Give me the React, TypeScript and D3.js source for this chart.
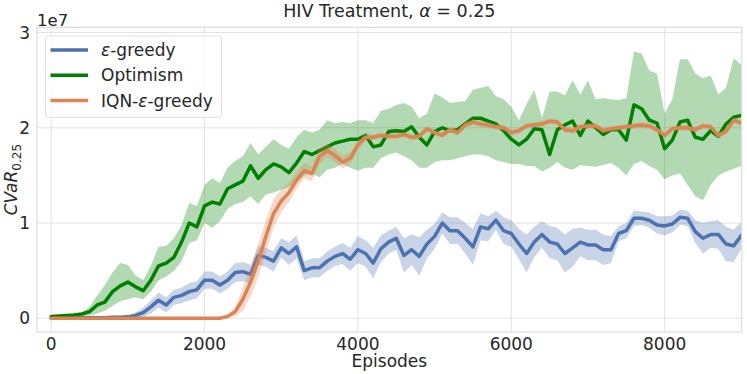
import React from "react";
import * as d3 from "d3";

// Size of the picture and the plot box
const W = 747;
const H = 374;
const box = { left: 37, right: 741.7, top: 27.3, bottom: 332 };

// Episodes, one sample every 100 episodes
const episodes = d3.range(0, 9001, 100);

// Values are in units of 1e7
const epsMean = [
  0.0, 0.0, 0.005, 0.005, 0.005, 0.005, 0.005, 0.005, 0.01, 0.01,
  0.015, 0.03, 0.06, 0.12, 0.19, 0.14, 0.22, 0.24, 0.28, 0.3,
  0.4, 0.4, 0.35, 0.4, 0.48, 0.49, 0.46, 0.66, 0.64, 0.6,
  0.74, 0.68, 0.75, 0.5, 0.53, 0.53, 0.6, 0.65, 0.68, 0.62,
  0.72, 0.68, 0.58, 0.73, 0.8, 0.84, 0.66, 0.72, 0.65, 0.78,
  0.86, 1.0, 0.92, 0.92, 0.84, 0.75, 0.96, 0.94, 1.03, 0.92,
  0.89, 0.78, 0.68, 0.8, 0.88, 0.8, 0.78, 0.68, 0.74, 0.8,
  0.77, 0.77, 0.72, 0.72, 0.89, 0.92, 1.05, 1.05, 1.03, 0.98,
  0.97, 0.99, 1.06, 1.05, 0.91, 0.84, 0.88, 0.88, 0.78, 0.76,
  0.87,
];
const epsSd = [
  0.01, 0.01, 0.01, 0.01, 0.01, 0.01, 0.01, 0.01, 0.01, 0.01,
  0.01, 0.03, 0.05, 0.07, 0.08, 0.08, 0.08, 0.08, 0.09, 0.09,
  0.09, 0.09, 0.09, 0.09, 0.1, 0.1, 0.1, 0.1, 0.1, 0.11,
  0.1, 0.12, 0.12, 0.1, 0.1, 0.1, 0.1, 0.1, 0.11, 0.12,
  0.14, 0.14, 0.16, 0.14, 0.12, 0.12, 0.18, 0.16, 0.2, 0.15,
  0.13, 0.11, 0.14, 0.14, 0.16, 0.19, 0.14, 0.13, 0.1, 0.14,
  0.14, 0.16, 0.2, 0.16, 0.14, 0.17, 0.17, 0.2, 0.2, 0.15,
  0.16, 0.16, 0.16, 0.14, 0.08, 0.08, 0.08, 0.07, 0.08, 0.09,
  0.1, 0.09, 0.08, 0.08, 0.12, 0.16, 0.14, 0.15, 0.18, 0.17,
  0.14,
];

const optMean = [
  0.02, 0.025, 0.03, 0.035, 0.045, 0.07, 0.14, 0.17, 0.28, 0.34,
  0.38, 0.33, 0.29, 0.4, 0.55, 0.58, 0.64, 0.8, 1.0, 0.96,
  1.18, 1.22, 1.2, 1.36, 1.4, 1.44, 1.6, 1.47, 1.56, 1.62,
  1.59, 1.53, 1.63, 1.75, 1.72, 1.76, 1.8, 1.84, 1.86, 1.88,
  1.88, 1.92, 1.8, 1.82, 1.96, 1.97, 1.96, 2.01, 1.9, 1.82,
  1.96, 2.0, 1.97, 1.98, 2.04, 2.1, 2.1, 2.07, 2.04, 1.97,
  1.88, 1.82, 1.88, 1.99, 1.98, 1.72, 1.98, 2.03, 2.07, 1.92,
  2.07, 2.0, 1.93, 1.98, 1.98, 1.87, 2.24, 2.2, 2.08, 2.05,
  1.78, 1.87, 2.06, 2.08, 1.9, 1.88, 1.97, 1.91, 2.04, 2.11,
  2.13,
];
const optLow = [
  0.01, 0.015, 0.02, 0.02, 0.025, 0.03, 0.05, 0.08, 0.13, 0.18,
  0.2, 0.22, 0.2, 0.28, 0.4, 0.44, 0.5, 0.6, 0.79, 0.82,
  1.0, 0.95, 1.02, 1.15, 1.2, 1.22, 1.28, 1.2, 1.3, 1.32,
  1.35, 1.38, 1.42, 1.5, 1.52, 1.48, 1.56, 1.58, 1.62, 1.58,
  1.55, 1.58, 1.58, 1.68, 1.72, 1.74, 1.7, 1.66, 1.58, 1.58,
  1.64, 1.66, 1.66, 1.68, 1.7, 1.72, 1.72, 1.7, 1.66, 1.64,
  1.62, 1.62, 1.6, 1.6, 1.54, 1.58, 1.64, 1.58, 1.56, 1.61,
  1.6, 1.59, 1.61, 1.63, 1.58, 1.5, 1.62, 1.65, 1.6, 1.56,
  1.46, 1.5, 1.52, 1.4, 1.28, 1.24, 1.4, 1.5, 1.54, 1.57,
  1.6,
];
const optHigh = [
  0.03, 0.035, 0.04, 0.05, 0.06, 0.12, 0.24, 0.35, 0.48, 0.58,
  0.56, 0.45, 0.4, 0.55, 0.75, 0.76, 0.84, 0.98, 1.21, 1.18,
  1.4, 1.47, 1.42, 1.58, 1.65, 1.7, 1.84, 1.72, 1.8, 1.88,
  1.82, 1.78, 1.9, 1.98, 1.95, 1.98, 2.08, 2.05, 2.06, 2.05,
  2.08, 2.08, 2.05, 2.18, 2.2, 2.24, 2.26, 2.22, 2.1, 2.15,
  2.36, 2.32, 2.26, 2.27, 2.28, 2.4, 2.42, 2.44, 2.33, 2.3,
  2.22, 2.08, 2.25, 2.4, 2.1, 2.38, 2.38, 2.34, 2.5, 2.35,
  2.5, 2.3, 2.31, 2.3, 2.29, 2.31, 2.8, 2.78, 2.6, 2.57,
  2.15, 2.3, 2.72, 2.72, 2.57, 2.52, 2.55, 2.35, 2.42, 2.73,
  2.66,
];

const iqnMean = [
  0.0, 0.0, 0.0, 0.0, 0.0, 0.0, 0.0, 0.0, 0.0, 0.0,
  0.0, 0.0, 0.0, 0.0, 0.0, 0.0, 0.0, 0.0, 0.0, 0.0,
  0.0, 0.0, 0.0, 0.02, 0.07, 0.2, 0.38, 0.6, 0.86, 1.1,
  1.23, 1.32, 1.45, 1.55, 1.52, 1.7, 1.76, 1.71, 1.64, 1.68,
  1.82, 1.9, 1.9, 1.92, 1.91, 1.91, 1.93, 1.9, 1.91, 1.99,
  1.95, 1.92, 1.98, 1.95, 2.03, 2.06, 2.04, 2.03, 2.01, 2.0,
  1.95, 1.97, 2.02, 2.03, 2.04, 2.07, 2.06, 1.98, 1.97, 2.01,
  2.02, 2.02, 1.97, 1.99, 2.0, 2.01, 2.02, 2.03, 2.02, 1.98,
  1.92, 1.99, 2.0, 2.0, 1.98, 2.02, 2.01, 1.92, 1.96, 2.08,
  2.05,
];
const iqnSd = [
  0.01, 0.01, 0.01, 0.01, 0.01, 0.01, 0.01, 0.01, 0.01, 0.01,
  0.01, 0.01, 0.01, 0.01, 0.01, 0.01, 0.01, 0.01, 0.01, 0.01,
  0.01, 0.01, 0.01, 0.02, 0.05, 0.12, 0.15, 0.17, 0.17, 0.15,
  0.12, 0.1, 0.09, 0.08, 0.08, 0.08, 0.07, 0.07, 0.07, 0.06,
  0.05, 0.04, 0.03, 0.03, 0.03, 0.03, 0.03, 0.03, 0.03, 0.03,
  0.03, 0.03, 0.03, 0.03, 0.03, 0.03, 0.03, 0.03, 0.03, 0.03,
  0.03, 0.03, 0.03, 0.03, 0.03, 0.03, 0.03, 0.03, 0.03, 0.03,
  0.03, 0.03, 0.03, 0.03, 0.03, 0.03, 0.03, 0.03, 0.03, 0.03,
  0.03, 0.03, 0.03, 0.03, 0.03, 0.03, 0.03, 0.03, 0.03, 0.03,
  0.03,
];

const xTicks = [0, 2000, 4000, 6000, 8000];
const yTicks = [0, 1, 2, 3];

const BLUE = "#4c72b0";
const GREEN = "#008000";
const ORANGE = "#dd8452";
const FONT = "DejaVu Sans, sans-serif";
const TEXT = "#262626";

const series = [
  { name: "ε-greedy", color: BLUE, mean: epsMean, lo: epsMean.map((m, i) => m - epsSd[i]), hi: epsMean.map((m, i) => m + epsSd[i]) },
  { name: "Optimism", color: GREEN, mean: optMean, lo: optLow, hi: optHigh },
  { name: "IQN-ε-greedy", color: ORANGE, mean: iqnMean, lo: iqnMean.map((m, i) => m - iqnSd[i]), hi: iqnMean.map((m, i) => m + iqnSd[i]) },
];

export default function App() {
  const x = d3.scaleLinear().domain([-185, 9005]).range([box.left, box.right]);
  const y = d3.scaleLinear().domain([-0.144, 3.055]).range([box.bottom, box.top]);

  const line = d3
    .line<number>()
    .x((_, i) => x(episodes[i]))
    .y((d) => y(d));

  const band = (lo: number[], hi: number[]) =>
    d3
      .area<number>()
      .x((_, i) => x(episodes[i]))
      .y0((_, i) => y(lo[i]))
      .y1((_, i) => y(hi[i]))(episodes);

  const midX = (box.left + box.right) / 2;
  const midY = (box.top + box.bottom) / 2;

  return (
    <svg
      width={W}
      height={H}
      style={{ position: "absolute", left: 0, top: 0, background: "#fff" }}
      fontFamily={FONT}
    >
      <defs>
        <clipPath id="plot">
          <rect x={box.left} y={box.top} width={box.right - box.left} height={box.bottom - box.top} />
        </clipPath>
      </defs>

      {/* gridlines */}
      {xTicks.map((t) => (
        <line key={"gx" + t} x1={x(t)} x2={x(t)} y1={box.top} y2={box.bottom} stroke="#e3e3e3" strokeWidth={1} />
      ))}
      {yTicks.map((t) => (
        <line key={"gy" + t} x1={box.left} x2={box.right} y1={y(t)} y2={y(t)} stroke="#e3e3e3" strokeWidth={1} />
      ))}

      {/* bands and lines */}
      <g clipPath="url(#plot)">
        {series.map((s) => (
          <g key={s.name}>
            <path d={band(s.lo, s.hi) || ""} fill={s.color} fillOpacity={0.3} stroke="none" />
            <path d={line(s.mean) || ""} fill="none" stroke={s.color} strokeWidth={3.5} strokeLinejoin="round" strokeLinecap="round" />
          </g>
        ))}
      </g>

      {/* frame */}
      <rect x={box.left} y={box.top} width={box.right - box.left} height={box.bottom - box.top} fill="none" stroke="#dcdcdc" strokeWidth={1.2} />

      {/* tick labels */}
      {xTicks.map((t) => (
        <text key={"tx" + t} x={x(t)} y={350} textAnchor="middle" fontSize={17} fill={TEXT}>
          {t}
        </text>
      ))}
      {yTicks.map((t) => (
        <text key={"ty" + t} x={30} y={y(t)} dy="0.36em" textAnchor="end" fontSize={17} fill={TEXT}>
          {t}
        </text>
      ))}
      <text x={box.left} y={26} fontSize={16.5} fill={TEXT}>1e7</text>

      {/* axis labels and title */}
      <text x={midX} y={366.5} textAnchor="middle" fontSize={17} fill={TEXT}>Episodes</text>
      <text transform={`translate(16.5,${midY}) rotate(-90)`} textAnchor="middle" fontSize={17} fill={TEXT}>
        <tspan fontStyle="italic">CVaR</tspan>
        <tspan fontSize={12} dy={4}>0.25</tspan>
      </text>
      <text x={midX} y={16.7} textAnchor="middle" fontSize={17.5} fill={TEXT}>
        HIV Treatment, <tspan fontStyle="italic">α</tspan> = 0.25
      </text>

      {/* legend */}
      <rect x={45.5} y={36} width={176} height={81.3} rx={3} fill="#fff" fillOpacity={0.8} stroke="#e0e0e0" />
      {series.map((s, i) => (
        <g key={"lg" + s.name} transform={`translate(0,${50 + i * 25.3})`}>
          <line x1={50.5} x2={88} y1={0} y2={0} stroke={s.color} strokeWidth={3.5} />
          <text x={101} y={0} dy="0.36em" fontSize={17} fill={TEXT}>
            {s.name.split("ε").map((part, j, arr) => (
              <React.Fragment key={j}>
                {part}
                {j < arr.length - 1 && <tspan fontStyle="italic">ε</tspan>}
              </React.Fragment>
            ))}
          </text>
        </g>
      ))}
    </svg>
  );
}
